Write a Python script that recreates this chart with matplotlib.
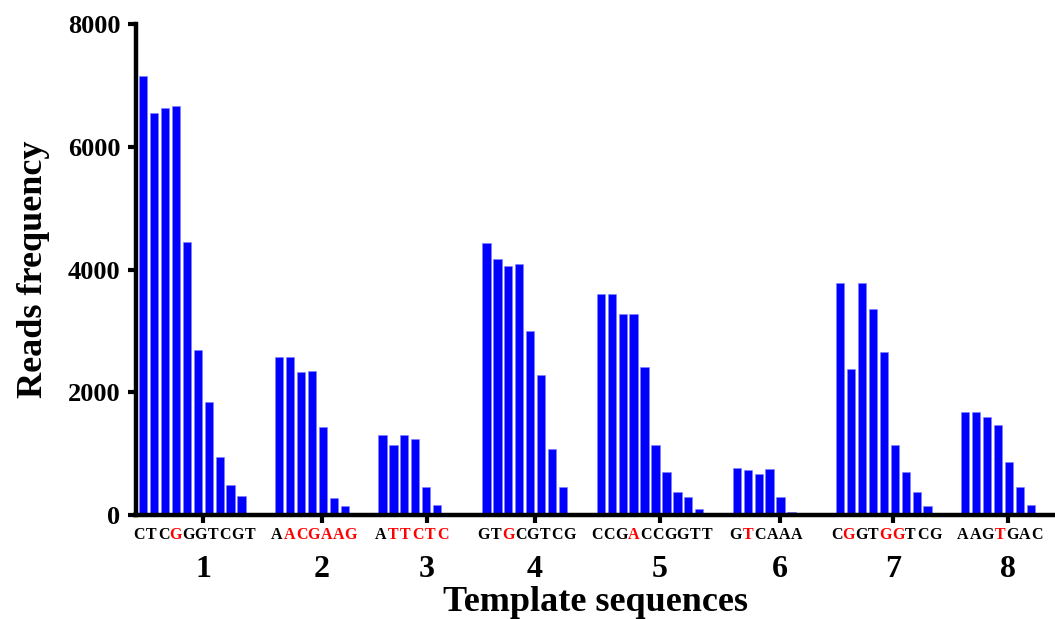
import matplotlib
matplotlib.use("Agg")
import matplotlib.pyplot as plt
import numpy as np

# reads per position, one list per template sequence
reads_1 = [7150, 6550, 6630, 6670, 4450, 2690, 1840, 945, 485, 310]
reads_2 = [2570, 2570, 2330, 2345, 1435, 275, 150]
reads_3 = [1300, 1135, 1300, 1245, 450, 160]
reads_4 = [4430, 4175, 4065, 4095, 2995, 2275, 1070, 455]
reads_5 = [3600, 3600, 3275, 3280, 2415, 1135, 700, 370, 290, 95]
reads_6 = [765, 740, 670, 755, 300, 50]
reads_7 = [3780, 2385, 3780, 3365, 2650, 1135, 695, 370, 145]
reads_8 = [1685, 1685, 1600, 1460, 865, 450, 165]
all_reads = [reads_1, reads_2, reads_3, reads_4, reads_5, reads_6, reads_7, reads_8]

sequences = ["CTCGGGTCGT", "AACGAAG", "ATTCTC", "GTGCGTCG",
             "CCGACCGGTT", "GTCAAA", "CGGTGGTCG", "AAGTGAC"]
# which letters are printed red
red_letters = [[3], [1, 2, 3, 4, 5, 6], [1, 2, 3, 4, 5], [2],
               [3], [1], [1, 4, 5], [3]]
group_labels = ["1", "2", "3", "4", "5", "6", "7", "8"]

# layout (pixel-like x units)
group_starts = [139, 275, 378.3, 482.3, 596.7, 732.7, 836, 961]
tick_pos = [203, 322, 427, 535, 660, 780, 893, 1008]
bar_step = 10.93
bar_w = 8.3
letter_pitch = 12.3

plt.rcParams['font.family'] = ['Liberation Serif', 'DejaVu Serif']
plt.rcParams['font.weight'] = 'bold'

fig = plt.figure(figsize=(10.55, 6.19), dpi=100)
ax = fig.add_axes([135.5 / 1055, 104 / 619, 919.5 / 1055, 490.7 / 619])

for start, vals, seq, reds in zip(group_starts, all_reads, sequences, red_letters):
    xs = start + bar_w / 2 + bar_step * np.arange(len(vals))
    ax.bar(xs, vals, width=bar_w, color="#0000ff", edgecolor="#7f7fff", linewidth=0.4)
    cx = xs.mean() + 2
    n = len(seq)
    for i, ch in enumerate(seq):
        ax.text(cx + (i - (n - 1) / 2) * letter_pitch, -0.041, ch,
                transform=ax.get_xaxis_transform(), ha="center", va="center",
                fontsize=11.5, fontweight="bold",
                color="red" if i in reds else "black")

ax.set_xlim(135.5, 1055)
ax.set_ylim(0, 8000)
ax.set_yticks([0, 2000, 4000, 6000, 8000])
ax.set_xticks(tick_pos)
ax.set_xticklabels(group_labels, fontsize=23, fontweight="bold")
ax.tick_params(axis="x", length=6, width=3, pad=23, direction="out")
ax.tick_params(axis="y", length=6, width=3, pad=5, labelsize=19)
for t in ax.get_yticklabels():
    t.set_fontweight("bold")

for side in ["top", "right"]:
    ax.spines[side].set_visible(False)
for side in ["left", "bottom"]:
    ax.spines[side].set_linewidth(3.2)

ax.set_ylabel("Reads frequency", fontsize=26, fontweight="bold", labelpad=13)
ax.set_xlabel("Template sequences", fontsize=26, fontweight="bold", labelpad=1)

fig.savefig("out.png", dpi=100)
